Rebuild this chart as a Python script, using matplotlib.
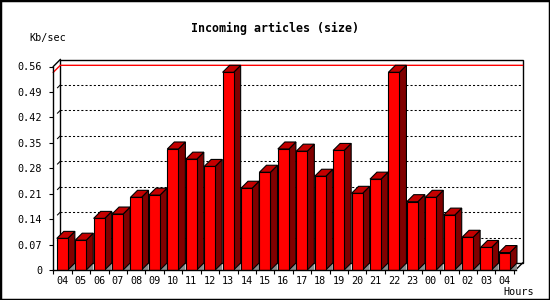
import matplotlib
matplotlib.use("Agg")
import matplotlib.pyplot as plt
from matplotlib.patches import Rectangle, Polygon
import numpy as np

hours = ["04", "05", "06", "07", "08", "09", "10", "11", "12", "13", "14", "15",
         "16", "17", "18", "19", "20", "21", "22", "23", "00", "01", "02", "03", "04"]
values = [0.087, 0.082, 0.142, 0.154, 0.200, 0.206, 0.333, 0.305, 0.285, 0.544,
          0.225, 0.269, 0.333, 0.327, 0.258, 0.329, 0.211, 0.250, 0.544, 0.188,
          0.200, 0.151, 0.090, 0.062, 0.048]
yticks = [0, 0.07, 0.14, 0.21, 0.28, 0.35, 0.42, 0.49, 0.56]
ytick_labels = ["0", "0.07", "0.14", "0.21", "0.28", "0.35", "0.42", "0.49", "0.56"]
title = "Incoming articles (size)"
ylabel = "Kb/sec"
xlabel = "Hours"

FRONT = "#ff0000"
TOP = "#c40000"
SIDE = "#800000"
SHADOW = "#8c8c8c"
FONT = "DejaVu Sans Mono"

W, H = 550, 300
fig = plt.figure(figsize=(5.5, 3.0), dpi=100)
fig.patch.set_facecolor("white")

ax_l, ax_r = 53.3, 515.5
ax_bot, ax_top = 270.0, 66.5
ax = fig.add_axes([ax_l / W, (H - ax_bot) / H, (ax_r - ax_l) / W, (ax_bot - ax_top) / H])
ax.set_facecolor("none")
x0, x1 = -0.49, 24.6
ymax = 0.56
ax.set_xlim(x0, x1)
ax.set_ylim(0, ymax)

# depth of the 3D effect, in pixels, converted through the axes scales
fig.canvas.draw()
inv = ax.transData.inverted()
p0 = ax.transData.transform((0, 0))
dxd, dyd = inv.transform(p0 + np.array([7.0, 7.0])) - inv.transform(p0)

# back wall
ax.add_patch(Rectangle((x0 + dxd, dyd), x1 - x0, ymax, facecolor="white",
                       edgecolor="black", lw=1.0, clip_on=False, zorder=1))
# gridlines on back wall
for v in yticks[1:-1]:
    ax.plot([x0 + dxd, x1 + dxd], [v + dyd, v + dyd], color="black", lw=0.75,
            linestyle=(0, (2.0, 2.0)), clip_on=False, zorder=2)
    ax.plot([x0 + dxd * 0.6, x0 + dxd], [v + dyd * 0.6, v + dyd], color="black",
            lw=0.75, clip_on=False, zorder=2)
# max line
vmax = max(values)
ax.plot([x0, x0 + dxd, x1 + dxd], [vmax, vmax + dyd, vmax + dyd], color="red",
        lw=1.0, clip_on=False, zorder=2)
# frame slants
ax.plot([x0, x0 + dxd], [ymax, ymax + dyd], color="black", lw=1.0, clip_on=False, zorder=3)
ax.plot([x1, x1 + dxd], [0, dyd], color="black", lw=1.0, clip_on=False, zorder=3)

# bars
bw = 0.6
for i, v in enumerate(values):
    l, r = i - bw / 2, i + bw / 2
    z = 4 + i * 0.01
    ax.add_patch(Polygon([(r, 0), (r + dxd, dyd), (r + dxd, 0)], closed=True,
                         facecolor=SHADOW, edgecolor="none", clip_on=False, zorder=z))
    ax.add_patch(Polygon([(r, 0), (r, v), (r + dxd, v + dyd), (r + dxd, dyd)], closed=True,
                         facecolor=SIDE, edgecolor="black", lw=0.8, clip_on=False, zorder=z))
    ax.add_patch(Polygon([(l, v), (r, v), (r + dxd, v + dyd), (l + dxd, v + dyd)], closed=True,
                         facecolor=TOP, edgecolor="black", lw=0.8, clip_on=False, zorder=z))
ax.bar(range(len(values)), values, width=bw, color=FRONT, edgecolor="black",
       linewidth=0.8, zorder=5)

# axes/spines
for s in ["top", "right"]:
    ax.spines[s].set_visible(False)
for s in ["left", "bottom"]:
    ax.spines[s].set_linewidth(1.0)
    ax.spines[s].set_zorder(6)
ax.set_yticks(yticks)
ax.set_yticklabels(ytick_labels, fontfamily=FONT, fontsize=7.3)
ax.tick_params(axis="y", direction="out", length=3, width=0.8, pad=5)
bounds = [k - 0.49 for k in range(len(values) + 1)]
ax.set_xticks(bounds)
ax.set_xticklabels([])
ax.tick_params(axis="x", which="major", direction="out", length=3, width=0.8)
ax.set_xticks(range(len(values)), minor=True)
ax.set_xticklabels(hours, minor=True, fontfamily=FONT, fontsize=7.3)
ax.tick_params(axis="x", which="minor", length=0, pad=4.3)

fig.text(275 / W, 1 - 28 / H, title, ha="center", va="center", fontfamily=FONT,
         fontsize=8.4, fontweight="bold")
fig.text(29.5 / W, 1 - 38.5 / H, ylabel, ha="left", va="center", fontfamily=FONT, fontsize=7.3)
fig.text(519 / W, 1 - 292 / H, xlabel, ha="center", va="center", fontfamily=FONT, fontsize=7.3)

fig.add_artist(Rectangle((0, 0), 1, 1, transform=fig.transFigure, fill=False,
                         edgecolor="black", lw=2.5))

fig.savefig("out.png", dpi=100, facecolor="white")
